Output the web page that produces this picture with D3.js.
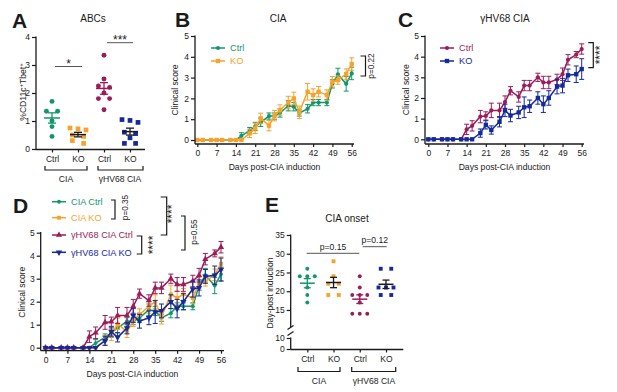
<!DOCTYPE html>
<html>
<head>
<meta charset="utf-8">
<script src="https://cdn.jsdelivr.net/npm/d3@7"></script>
<style>
  body { margin: 0; background: #fff; }
  svg { display: block; font-family: "Liberation Sans", Arial, Helvetica, sans-serif; }
</style>
</head>
<body>
<div id="vis"></div>
<script>
// ---- data ----
var days = [0,2,5,7,9,12,14,16,19,21,23,26,28,30,33,35,37,40,42,44,47,49,51,54,56];
var dayTicks = [0,7,14,21,28,35,42,49,56];
var scoreTicks = [0,1,2,3,4,5];

// CIA (panel B, also D)
var ciaCtrl    = [0,0,0,0,0,0,0,0.2,0.45,0.65,0.85,1.15,1.15,1.3,1.65,1.6,1.3,1.5,1.8,1.8,1.8,2.7,3.15,2.7,3.2];
var ciaCtrlErr = [0,0,0,0,0,0,0,0.15,0.15,0.2,0.2,0.15,0.15,0.2,0.25,0.2,0.15,0.2,0.15,0.15,0.15,0.2,0.3,0.35,0.3];
var ciaKO      = [0,0,0,0,0,0,0,0,0.32,0.56,1.04,0.69,1.17,1.44,1.8,2.0,1.33,2.32,2.16,2.32,2.16,2.8,2.88,3.17,3.65];
var ciaKOErr   = [0,0,0,0,0,0,0,0,0.2,0.25,0.25,0.25,0.25,0.25,0.3,0.3,0.3,0.4,0.3,0.25,0.25,0.25,0.2,0.25,0.3];

// gHV68 CIA (panel C, also D)
var hvCtrl     = [0,0,0,0,0,0,0.48,0.65,1.1,1.13,1.4,1.4,1.8,2.35,2.05,2.6,2.6,3.0,2.75,2.75,2.9,3.15,3.85,4.1,4.37];
var hvCtrlErr  = [0,0,0,0,0,0,0.25,0.25,0.3,0.2,0.35,0.35,0.3,0.2,0.25,0.25,0.25,0.2,0.3,0.3,0.25,0.3,0.25,0.15,0.25];
var hvKO       = [0,0,0,0,0,0,0,0,0.3,0.7,0.45,0.85,1.4,1.15,1.3,1.55,1.6,2.0,1.7,2.0,2.55,2.6,3.1,3.15,3.4];
var hvKOErr    = [0,0,0,0,0,0,0,0,0.2,0.2,0.2,0.25,0.3,0.3,0.3,0.5,0.3,0.3,0.4,0.35,0.35,0.35,0.3,0.4,0.5];

// ABCs (panel A)
var groupLabels = ["Ctrl","KO","Ctrl","KO"];
var abcTicks = [0,1,2,3,4];
var abcCiaCtrl = [1.7,1.35,1.35,1.0,0.8,0.45];
var abcCiaKO   = [0.75,0.72,0.68,0.5,0.45,0.3,0.2];
var abcHvCtrl  = [3.35,2.5,2.25,2.2,2.0,1.8,1.8,1.4];
var abcHvKO    = [1.05,1.02,0.95,0.6,0.55,0.4,0.2,0.2];

// CIA onset (panel E)
var onsetTicksUpper = [15,20,25,30,35];
var onsetTicksLower = [0,10];
var onsetCiaCtrl = [26,24,24,24,21,19,17];
var onsetCiaKO   = [28,24,22,22,19,19];
var onsetHvCtrl  = [24,21,19,19,19,17,14,14,14];
var onsetHvKO    = [26,26,21,21,21,19,19];

// ---- drawing ----
var W = 617, H = 392;
var ink = "#1a1a1a";
var col = { green: "#13966b", orange: "#f8a22b", magenta: "#9a1d5a", blue: "#15299a" };

var svg = d3.select("#vis").append("svg")
  .attr("width", W).attr("height", H)
  .style("background-color", "#fff");

function label(x, y, s, size, o) {
  o = o || {};
  return svg.append("text")
    .attr("x", x).attr("y", y)
    .attr("font-size", size)
    .attr("text-anchor", o.anchor || "middle")
    .attr("font-weight", o.bold ? "bold" : null)
    .attr("fill", o.fill || ink)
    .text(s);
}

// vertical text reading bottom-to-top, centred on (cx, cy)
function vlabel(cx, cy, s, size, fill) {
  return svg.append("text")
    .attr("transform", `translate(${cx + size * 0.3},${cy}) rotate(-90)`)
    .attr("text-anchor", "middle")
    .attr("font-size", size)
    .attr("fill", fill || ink)
    .text(s);
}

function hline(x1, x2, y, w, c) {
  svg.append("line").attr("x1", x1).attr("x2", x2).attr("y1", y).attr("y2", y)
    .attr("stroke", c || ink).attr("stroke-width", w || 1.3);
}
function vline(x, y1, y2, w, c) {
  svg.append("line").attr("x1", x).attr("x2", x).attr("y1", y1).attr("y2", y2)
    .attr("stroke", c || ink).attr("stroke-width", w || 1.3);
}

function yAxis(scale, x, ticks, yEnd) {
  var g = svg.append("g")
    .attr("transform", `translate(${x},0)`)
    .call(d3.axisLeft(scale).tickValues(ticks).tickFormat(d3.format("d"))
      .tickSize(4).tickPadding(2).tickSizeOuter(0));
  g.select(".domain").remove();
  g.attr("font-size", 8.5).attr("font-family", null);
  g.selectAll("line").attr("stroke", ink).attr("stroke-width", 1.2);
  g.selectAll("text").attr("fill", ink);
  vline(x, scale(ticks[ticks.length - 1]) - 0.6, yEnd);
}

function xAxis(scale, y, ticks, x0, x1, fmt) {
  var ax = d3.axisBottom(scale).tickValues(ticks).tickFormat(fmt || d3.format("d"))
    .tickSize(3).tickPadding(3).tickSizeOuter(0);
  var g = svg.append("g").attr("transform", `translate(0,${y})`).call(ax);
  g.select(".domain").remove();
  g.attr("font-size", 8.5).attr("font-family", null);
  g.selectAll("line").attr("stroke", ink).attr("stroke-width", 1.2);
  g.selectAll("text").attr("fill", ink);
  hline(x0, x1, y);
}

function symPath(shape, area) {
  var t = { circle: d3.symbolCircle, square: d3.symbolSquare, tri: d3.symbolTriangle, triDown: d3.symbolTriangle }[shape];
  return d3.symbol().type(t).size(area)();
}

function drawSeries(x, y, s, area) {
  var g = svg.append("g");
  var pts = days.map((d, i) => ({ d: d, v: s.vals[i], e: s.errs[i] }));
  g.append("path").datum(pts)
    .attr("fill", "none").attr("stroke", s.color).attr("stroke-width", 1.5)
    .attr("d", d3.line().x(p => x(p.d)).y(p => y(p.v)));
  g.selectAll(".eb").data(pts.filter(p => p.e > 0)).enter().append("path")
    .attr("fill", "none").attr("stroke", s.color).attr("stroke-width", 1)
    .attr("d", p => {
      var cx = x(p.d), ya = y(p.v + p.e), yb = y(p.v - p.e);
      return `M${cx - 2.5},${ya}H${cx + 2.5}M${cx},${ya}V${yb}M${cx - 2.5},${yb}H${cx + 2.5}`;
    });
  g.selectAll(".pt").data(pts).enter().append("path")
    .attr("transform", p => `translate(${x(p.d)},${y(p.v)})` + (s.shape === "triDown" ? " rotate(180)" : ""))
    .attr("d", symPath(s.shape, area))
    .attr("fill", s.color);
}

function legendItem(x, y, s, text, area) {
  hline(x, x + 14, y, 1.5, s.color);
  svg.append("path")
    .attr("transform", `translate(${x + 7},${y})` + (s.shape === "triDown" ? " rotate(180)" : ""))
    .attr("d", symPath(s.shape, area)).attr("fill", s.color);
  label(x + 19, y + 3.2, text, 9.2, { anchor: "start", fill: s.color });
}

function bracketR(x, y1, y2, w) {
  svg.append("path").attr("d", `M${x - w},${y1}H${x}V${y2}H${x - w}`)
    .attr("fill", "none").attr("stroke", ink).attr("stroke-width", 1.2);
}
function bracketU(x1, x2, y, h) {
  svg.append("path").attr("d", `M${x1},${y - h}V${y}H${x2}V${y - h}`)
    .attr("fill", "none").attr("stroke", ink).attr("stroke-width", 1.2);
}

function lineChart(cfg) {
  var x = d3.scaleLinear().domain([0, 56]).range([cfg.x0, cfg.x56]);
  var y = d3.scaleLinear().domain([0, 5]).range([cfg.y0, cfg.y5]);
  cfg.series.forEach(s => drawSeries(x, y, s, s.area || 15));
  yAxis(y, cfg.ax, scoreTicks, cfg.ay);
  xAxis(x, cfg.ay, dayTicks, cfg.ax, cfg.axEnd);
  label((cfg.ax + cfg.axEnd) / 2, cfg.ay + 26, "Days post-CIA induction", 8.6);
  vlabel(cfg.ylabX, (cfg.y0 + cfg.y5) / 2 + 2, "Clinical score", 8.6);
}

// spreads points that share (nearly) the same height, like a dot plot
function swarm(vals, y, thresh, gap) {
  var idx = vals.map((v, i) => i).sort((a, b) => vals[b] - vals[a]);
  var off = vals.map(() => 0);
  var i = 0;
  while (i < idx.length) {
    var j = i + 1;
    while (j < idx.length && Math.abs(y(vals[idx[j]]) - y(vals[idx[i]])) < thresh) j++;
    var n = j - i, g = n === 2 ? gap * 1.4 : gap;
    for (var k = 0; k < n; k++) off[idx[i + k]] = (k - (n - 1) / 2) * g;
    i = j;
  }
  return off;
}

function dotGroups(groups, x, y, o) {
  groups.forEach((gr, gi) => {
    var cx = x(gi);
    var off = swarm(gr.vals, y, o.thresh, o.gap);
    svg.append("g").selectAll("path").data(gr.vals).enter().append("path")
      .attr("transform", (v, i) => `translate(${cx + off[i]},${y(v)})`)
      .attr("d", symPath(gr.shape, gr.shape === "square" ? o.sq : o.ci))
      .attr("fill", gr.color);
    var m = d3.mean(gr.vals), se = d3.deviation(gr.vals) / Math.sqrt(gr.vals.length);
    hline(cx - o.bar, cx + o.bar, y(m), 1.5, gr.bar);
    vline(cx, y(m + se), y(m - se), 1.3, gr.bar);
    hline(cx - o.cap, cx + o.cap, y(m + se), 1.3, gr.bar);
    hline(cx - o.cap, cx + o.cap, y(m - se), 1.3, gr.bar);
  });
}

// ===== Panel A =====
label(12, 28, "A", 21, { anchor: "start", bold: true });
label(93, 22, "ABCs", 10);
var abcY = d3.scaleLinear().domain([0, 4]).range([149, 37]);
var abcX = d3.scalePoint().domain([0, 1, 2, 3]).range([52, 130]);
dotGroups([
  { vals: abcCiaCtrl, color: col.green, shape: "circle", bar: col.green },
  { vals: abcCiaKO, color: col.orange, shape: "square", bar: ink },
  { vals: abcHvCtrl, color: col.magenta, shape: "circle", bar: col.magenta },
  { vals: abcHvKO, color: col.blue, shape: "square", bar: ink }
], abcX, abcY, { thresh: 5, gap: 8, ci: 19, sq: 22, bar: 8, cap: 4 });
yAxis(abcY, 36, abcTicks, 149.5);
xAxis(abcX, 149.5, [0, 1, 2, 3], 36, 145, i => groupLabels[i]);
var yl = svg.append("text")
  .attr("transform", "translate(25.5,92) rotate(-90)")
  .attr("text-anchor", "middle").attr("font-size", 8.6).attr("fill", ink);
yl.append("tspan").text("%CD11c");
yl.append("tspan").attr("font-size", 6).attr("dy", -3).text("+");
yl.append("tspan").attr("dy", 3).text("Tbet");
yl.append("tspan").attr("font-size", 6).attr("dy", -3).text("+");
bracketU(45, 87, 170, 4);
bracketU(98, 143, 170, 4);
label(66, 182, "CIA", 8.6);
label(120, 182, "γHV68 CIA", 8.6);
hline(55, 82, 66.5, 1, "#555");
label(68.5, 67.5, "*", 12);
hline(107, 133, 42.7, 1, "#555");
label(120, 44, "***", 12);

// ===== Panel B =====
label(175, 27, "B", 21, { anchor: "start", bold: true });
label(278, 22, "CIA", 10);
lineChart({
  x0: 197.3, x56: 351.7, y0: 140, y5: 36, ax: 195, ay: 144, axEnd: 354, ylabX: 175.7,
  series: [
    { vals: ciaCtrl, errs: ciaCtrlErr, color: col.green, shape: "circle", area: 14 },
    { vals: ciaKO, errs: ciaKOErr, color: col.orange, shape: "square", area: 19 }
  ]
});
legendItem(211, 48, { color: col.green, shape: "circle" }, "Ctrl", 14);
legendItem(211, 61, { color: col.orange, shape: "square" }, "KO", 19);
bracketR(365.5, 56, 76, 5);
vlabel(372, 66, "p=0.22", 8.2);

// ===== Panel C =====
label(398, 27, "C", 21, { anchor: "start", bold: true });
label(505, 22, "γHV68 CIA", 10);
lineChart({
  x0: 428.3, x56: 581.7, y0: 139.3, y5: 36, ax: 425, ay: 144, axEnd: 584, ylabX: 406.7,
  series: [
    { vals: hvCtrl, errs: hvCtrlErr, color: col.magenta, shape: "circle", area: 14 },
    { vals: hvKO, errs: hvKOErr, color: col.blue, shape: "square", area: 19 }
  ]
});
legendItem(440, 48, { color: col.magenta, shape: "circle" }, "Ctrl", 14);
legendItem(440, 61, { color: col.blue, shape: "square" }, "KO", 19);
bracketR(593.3, 42.7, 67.7, 5);
vlabel(600, 55, "****", 12);

// ===== Panel D =====
label(13, 213, "D", 21, { anchor: "start", bold: true });
var dSeries = [
  { vals: ciaCtrl, errs: ciaCtrlErr, color: col.green, shape: "circle", area: 12 },
  { vals: ciaKO, errs: ciaKOErr, color: col.orange, shape: "square", area: 15 },
  { vals: hvCtrl, errs: hvCtrlErr, color: col.magenta, shape: "tri", area: 17 },
  { vals: hvKO, errs: hvKOErr, color: col.blue, shape: "triDown", area: 17 }
];
lineChart({
  x0: 45.5, x56: 221, y0: 347.7, y5: 232.7, ax: 40.7, ay: 350.7, axEnd: 224, ylabX: 22.7,
  series: dSeries
});
legendItem(52, 201.7, dSeries[0], "CIA Ctrl", 12);
legendItem(52, 217.7, dSeries[1], "CIA KO", 15);
legendItem(52, 235, dSeries[2], "γHV68 CIA Ctrl", 17);
legendItem(52, 252.3, dSeries[3], "γHV68 CIA KO", 17);
bracketR(115, 200, 219, 4);
vlabel(126, 207.5, "p=0.35", 8.2);
bracketR(141.7, 236, 254, 5);
vlabel(153.3, 245, "****", 12);
bracketR(166.7, 197, 235, 6);
vlabel(172.7, 214, "****", 12);
bracketR(185, 216, 250, 4);
vlabel(195, 232, "p=0.55", 8.2);

// ===== Panel E =====
label(265, 212, "E", 21, { anchor: "start", bold: true });
label(347, 222, "CIA onset", 10);
var onU = d3.scaleLinear().domain([15, 35]).range([310, 235]);
var onL = d3.scaleLinear().domain([0, 10]).range([349, 338]);
var onX = d3.scalePoint().domain([0, 1, 2, 3]).range([307.3, 386]);
dotGroups([
  { vals: onsetCiaCtrl, color: col.green, shape: "circle", bar: col.green },
  { vals: onsetCiaKO, color: col.orange, shape: "square", bar: ink },
  { vals: onsetHvCtrl, color: col.magenta, shape: "circle", bar: col.magenta },
  { vals: onsetHvKO, color: col.blue, shape: "square", bar: ink }
], onX, onU, { thresh: 4, gap: 7.5, ci: 12, sq: 15, bar: 7.5, cap: 3.5 });
yAxis(onU, 290.7, onsetTicksUpper, 327);
yAxis(onL, 290.7, onsetTicksLower, 349.5);
// axis break marks
svg.append("rect").attr("x", 288).attr("y", 327.5).attr("width", 6).attr("height", 6).attr("fill", "#fff");
svg.append("path").attr("d", "M287.5,329.5 L293.5,325.5 M287.5,335.5 L293.5,331.5")
  .attr("stroke", ink).attr("stroke-width", 1.2).attr("fill", "none");
xAxis(onX, 349.5, [0, 1, 2, 3], 290.7, 403.3, i => groupLabels[i]);
vlabel(270, 293, "Day-post induction", 8.6);
bracketU(298, 340, 371.5, 4.5);
bracketU(351.7, 395.7, 371.5, 4.5);
label(319, 384, "CIA", 8.6);
label(374, 384, "γHV68 CIA", 8.6);
hline(306.7, 359.3, 253.3, 1, "#555");
label(333, 249.5, "p=0.15", 8.6);
hline(362.7, 386.7, 246.7, 1, "#555");
label(374.7, 243, "p=0.12", 8.6);
</script>
</body>
</html>
